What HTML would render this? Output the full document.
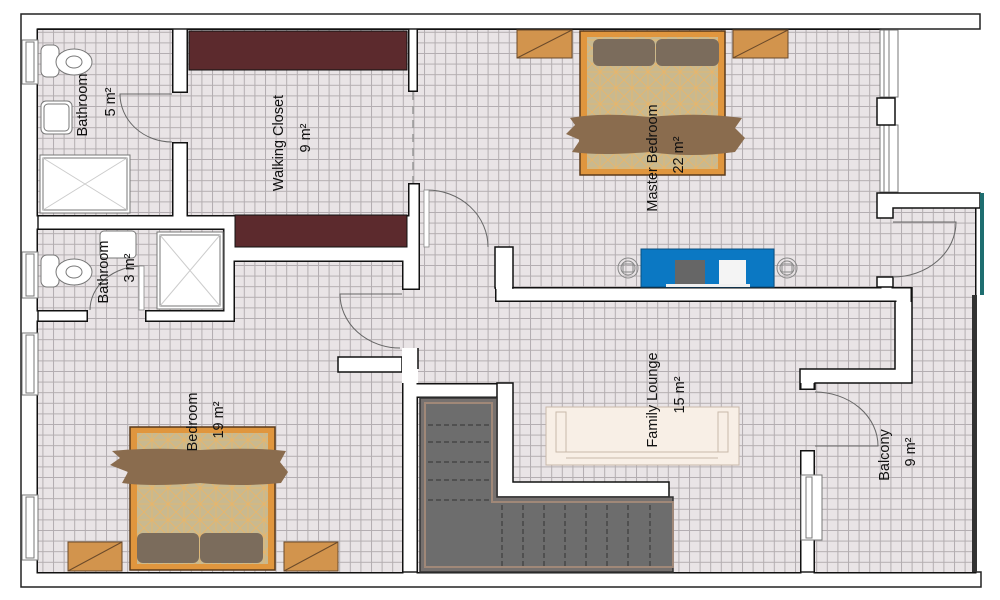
<!DOCTYPE html>
<html><head><meta charset="utf-8"><style>
html,body{margin:0;padding:0;background:#fff;}
svg{display:block;}
text{font-family:"Liberation Sans",sans-serif;font-size:14.5px;fill:#111;}
</style></head><body>
<svg width="1000" height="600" viewBox="0 0 1000 600" xmlns="http://www.w3.org/2000/svg">
<defs>
<pattern id="tile" x="0" y="0" width="10.6" height="10.6" patternUnits="userSpaceOnUse">
<rect width="10.6" height="10.6" fill="#e9e4e6"/>
<path d="M0 0.5H10.6M0.5 0V10.6" stroke="#b3adb0" stroke-width="1"/>
</pattern>
<pattern id="bedp" x="0" y="0" width="16" height="16" patternUnits="userSpaceOnUse">
<rect width="16" height="16" fill="#c9b98f"/>
<path d="M0 0L16 16M16 0L0 16M8 0V16M0 8H16" stroke="#e8b56a" stroke-width="0.8"/>
</pattern>
<g id="floors">
<rect x="38" y="30" width="134" height="185"/>
<rect x="172" y="93" width="16" height="49"/>
<rect x="188" y="30" width="220" height="185"/>
<rect x="408" y="92" width="12" height="91"/>
<rect x="418" y="30" width="462" height="153"/>
<rect x="420" y="183" width="460" height="104"/>
<rect x="420" y="287" width="75" height="15"/>
<rect x="418" y="302" width="477" height="67"/>
<rect x="418" y="369" width="382" height="14"/>
<rect x="513" y="383" width="287" height="189"/>
<rect x="418" y="398" width="79" height="174"/>
<rect x="497" y="497" width="176" height="75"/>
<rect x="400" y="290" width="20" height="58"/>
<rect x="235" y="262" width="167" height="60"/>
<rect x="38" y="322" width="364" height="250"/>
<rect x="38" y="230" width="185" height="80"/>
<rect x="88" y="310" width="57" height="12"/>
<rect x="893" y="208" width="82" height="79"/>
<rect x="912" y="287" width="63" height="96"/>
<rect x="815" y="383" width="160" height="189"/>
<rect x="800" y="390" width="15" height="60"/>
<rect x="880" y="218" width="13" height="59"/>
</g>
</defs>
<path d="M21 14H980V29H38V572H981V587H21Z" fill="#fff" stroke="#222" stroke-width="1.5"/>
<use href="#floors" fill="none" stroke="#111" stroke-width="3"/>
<use href="#floors" fill="url(#tile)"/>
<rect x="338" y="357" width="64" height="15" fill="#fff" stroke="#111" stroke-width="1.5"/>
<rect x="402" y="348" width="16" height="35" fill="#fff"/>
<path d="M418 348V369" stroke="#111" stroke-width="1.5"/>
<rect x="800" y="369" width="95" height="14" fill="#fff"/>
<rect x="895" y="302" width="17" height="81" fill="#fff"/>
<path d="M800 390V369H895V302M815 390V383H912V287" fill="none" stroke="#111" stroke-width="1.5"/>
<rect x="495" y="247" width="18" height="41" fill="#fff" stroke="#111" stroke-width="1.5"/>
<rect x="496" y="280" width="16" height="9" fill="#fff"/>
<rect x="189" y="31" width="218" height="39" fill="#5c2a2d" stroke="#111"/>
<rect x="235" y="215" width="172" height="32" fill="#5c2a2d" stroke="#111"/>
<path d="M413 92V183" stroke="#999" stroke-width="1.5" stroke-dasharray="8 6"/>
<g fill="#fff" stroke="#777" stroke-width="1">
<rect x="22" y="40" width="16" height="44"/><rect x="26" y="42" width="8" height="40"/>
<rect x="22" y="252" width="16" height="46"/><rect x="26" y="254" width="8" height="42"/>
<rect x="22" y="333" width="16" height="62"/><rect x="26" y="335" width="8" height="58"/>
<rect x="22" y="495" width="16" height="65"/><rect x="26" y="497" width="8" height="61"/>
<rect x="880" y="30" width="18" height="67"/><rect x="884" y="30" width="5" height="67"/>
<rect x="880" y="125" width="18" height="67"/><rect x="884" y="125" width="5" height="67"/>
<rect x="801" y="475" width="21" height="65"/><rect x="806" y="477" width="6" height="61"/>
</g>
<rect x="877" y="98" width="18" height="27" fill="#fff" stroke="#111" stroke-width="1.5"/>
<path d="M877 193H980V208H893V218H877Z" fill="#fff" stroke="#111" stroke-width="1.5"/>
<rect x="877" y="277" width="16" height="10" fill="#fff" stroke="#111" stroke-width="1.5"/>
<rect x="980" y="193" width="4" height="102" fill="#1e6e70"/>
<rect x="972" y="295" width="5" height="277" fill="#333"/>
<path d="M497 383H513V482H669V497H497Z" fill="#fff" stroke="#111" stroke-width="1.5"/>
<path d="M420 398H497V497H673V572H420Z" fill="#76716f" stroke="#333" stroke-width="1.5"/>
<path d="M425 403H492V502H673V567H425Z" fill="#6d6d6d" stroke="#a08878" stroke-width="2"/>
<g stroke="#333" stroke-width="1" stroke-dasharray="5 3">
<path d="M428 425H492M428 442H492M428 462H492M428 480H492M428 500H492"/>
<path d="M502 505V566M523 505V566M544 505V566M565 505V566M586 505V566M607 505V566M628 505V566M650 505V566"/>
</g>
<g fill="none" stroke="#666" stroke-width="1">
<path d="M172 94H120A52 48 0 0 0 172 142"/>
<path d="M427 247V190A61 57 0 0 1 488 247"/>
<path d="M402 294H340A60 54 0 0 0 400 348"/>
<path d="M142 310V266A52 44 0 0 0 90 310"/>
<path d="M893 222H956A63 55 0 0 1 893 277"/>
<path d="M815 446H878A63 54 0 0 0 815 392"/>
</g>
<rect x="424" y="190" width="5" height="57" fill="#fff" stroke="#888" stroke-width="0.8"/>
<rect x="139" y="266" width="5" height="44" fill="#fff" stroke="#888" stroke-width="0.8"/>
<g fill="#fff" stroke="#777" stroke-width="1">
<rect x="41" y="45" width="18" height="32" rx="6"/><ellipse cx="74" cy="62" rx="18" ry="13"/><ellipse cx="74" cy="62" rx="8" ry="6"/>
<rect x="41" y="101" width="31" height="33" rx="5"/><rect x="44" y="104" width="25" height="27" rx="4"/>
<rect x="40" y="155" width="90" height="58"/><rect x="43" y="158" width="84" height="52"/>
<path d="M43 158L127 210M127 158L43 210" stroke="#ccc"/>
<rect x="41" y="255" width="18" height="32" rx="6"/><ellipse cx="74" cy="272" rx="18" ry="13"/><ellipse cx="74" cy="272" rx="8" ry="6"/>
<rect x="100" y="231" width="36" height="27" rx="4"/>
<rect x="157" y="232" width="66" height="77"/><rect x="160" y="235" width="60" height="71"/>
<path d="M160 235L220 306M220 235L160 306" stroke="#ccc"/>
</g>
<g fill="#d2944d" stroke="#6b4a2a" stroke-width="1">
<rect x="517" y="30" width="55" height="28"/><path d="M517 58L572 30" fill="none"/>
<rect x="733" y="30" width="55" height="28"/><path d="M733 58L788 30" fill="none"/>
<rect x="68" y="542" width="54" height="29"/><path d="M68 571L122 542" fill="none"/>
<rect x="284" y="542" width="54" height="29"/><path d="M284 571L338 542" fill="none"/>
</g>
<rect x="580" y="31" width="145" height="144" fill="#e0963e" stroke="#5a3a1a" stroke-width="1.5"/>
<rect x="587" y="37" width="131" height="132" fill="url(#bedp)"/>
<rect x="593" y="39" width="62" height="27" rx="6" fill="#7b6c5c"/>
<rect x="656" y="39" width="63" height="27" rx="6" fill="#7b6c5c"/>
<path d="M570 118Q600 112 650 117Q700 112 742 118L735 128L745 138L735 152Q690 158 650 152Q600 156 572 152L580 140L566 134L575 125Z" fill="#8a6c4e"/>
<rect x="130" y="427" width="145" height="143" fill="#e0963e" stroke="#5a3a1a" stroke-width="1.5"/>
<rect x="137" y="433" width="131" height="131" fill="url(#bedp)"/>
<path d="M112 451Q150 447 200 450Q250 447 286 451L280 462L288 472L281 483Q240 487 200 483Q150 487 122 483L128 472L110 465L120 458Z" fill="#8a6c4e"/>
<rect x="137" y="533" width="62" height="30" rx="6" fill="#7b6c5c"/>
<rect x="200" y="533" width="63" height="30" rx="6" fill="#7b6c5c"/>
<rect x="641" y="249" width="133" height="38" fill="#0b78c3" stroke="#0a4f80"/>
<rect x="675" y="260" width="30" height="26" fill="#666"/>
<rect x="719" y="260" width="27" height="26" fill="#f4f4f4"/>
<rect x="666" y="284" width="84" height="3" fill="#f0f0f0"/>
<g fill="none" stroke="#888"><circle cx="628" cy="268" r="10"/><circle cx="628" cy="268" r="7"/><rect x="623" y="264" width="10" height="8"/>
<circle cx="787" cy="268" r="10"/><circle cx="787" cy="268" r="7"/><rect x="782" y="264" width="10" height="8"/></g>
<rect x="546" y="407" width="193" height="58" fill="#f8efe6" stroke="#c9b9a9"/>
<rect x="556" y="412" width="10" height="40" fill="none" stroke="#c9b9a9"/>
<rect x="718" y="412" width="10" height="40" fill="none" stroke="#c9b9a9"/>
<path d="M560 452H725M566 458H718" stroke="#c9b9a9" fill="none"/>
<text transform="translate(87,105) rotate(-90)" text-anchor="middle">Bathroom</text>
<text transform="translate(115,102) rotate(-90)" text-anchor="middle">5 m²</text>
<text transform="translate(283,143) rotate(-90)" text-anchor="middle">Walking Closet</text>
<text transform="translate(310,138) rotate(-90)" text-anchor="middle">9 m²</text>
<text transform="translate(108,272) rotate(-90)" text-anchor="middle">Bathroom</text>
<text transform="translate(134,268) rotate(-90)" text-anchor="middle">3 m²</text>
<text transform="translate(657,158) rotate(-90)" text-anchor="middle">Master Bedroom</text>
<text transform="translate(683,155) rotate(-90)" text-anchor="middle">22 m²</text>
<text transform="translate(197,422) rotate(-90)" text-anchor="middle">Bedroom</text>
<text transform="translate(223,420) rotate(-90)" text-anchor="middle">19 m²</text>
<text transform="translate(657,400) rotate(-90)" text-anchor="middle">Family Lounge</text>
<text transform="translate(684,395) rotate(-90)" text-anchor="middle">15 m²</text>
<text transform="translate(889,455) rotate(-90)" text-anchor="middle">Balcony</text>
<text transform="translate(915,452) rotate(-90)" text-anchor="middle">9 m²</text>
</svg>
</body></html>
